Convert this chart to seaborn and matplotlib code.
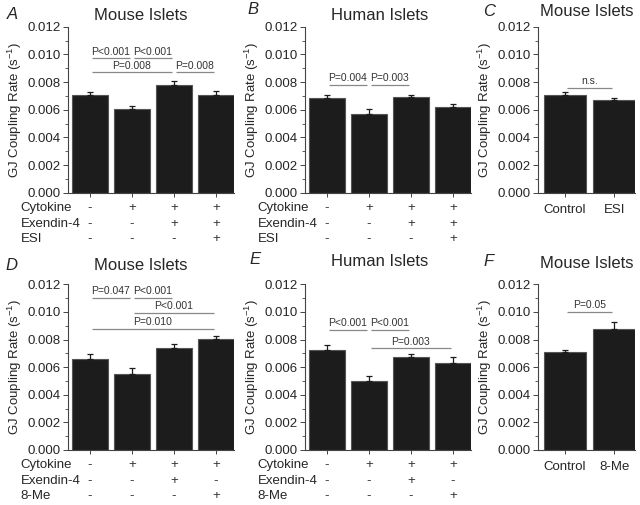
import numpy as np
import pandas as pd
import matplotlib
matplotlib.use('Agg')
import matplotlib.pyplot as plt
from matplotlib.ticker import MultipleLocator
import seaborn as sns

# ------------------------------------------------------------
# GJ coupling rate, six panels
# ------------------------------------------------------------
a_means = [0.00703, 0.00605, 0.00778, 0.00703]
a_errs = [0.00024, 0.00024, 0.00031, 0.00031]
b_means = [0.00687, 0.00566, 0.00689, 0.00620]
b_errs = [0.00020, 0.00036, 0.00020, 0.00021]
c_means = [0.00703, 0.00670]
c_errs = [0.00027, 0.00017]
d_means = [0.00662, 0.00553, 0.00742, 0.00802]
d_errs = [0.00031, 0.00039, 0.00028, 0.00027]
e_means = [0.00722, 0.00497, 0.00674, 0.00633]
e_errs = [0.00037, 0.00041, 0.00024, 0.00043]
f_means = [0.00710, 0.00873]
f_errs = [0.00015, 0.00053]

esi_rows = ['Cytokine', 'Exendin-4', 'ESI']
esi_signs = [['-', '+', '+', '+'],
             ['-', '-', '+', '+'],
             ['-', '-', '-', '+']]
me_rows = ['Cytokine', 'Exendin-4', '8-Me']
me_signs = [['-', '+', '+', '+'],
            ['-', '-', '+', '-'],
            ['-', '-', '-', '+']]
c_labels = ['Control', 'ESI']
f_labels = ['Control', '8-Me']

# significance brackets: (from bar, to bar, height, text)
a_sig = [(0, 1, 0.00972, 'P<0.001'), (1, 2, 0.00972, 'P<0.001'),
         (0, 2, 0.00870, 'P=0.008'), (2, 3, 0.00870, 'P=0.008')]
b_sig = [(0, 1, 0.00780, 'P=0.004'), (1, 2, 0.00780, 'P=0.003')]
c_sig = [(0, 1, 0.00759, 'n.s.')]
d_sig = [(0, 1, 0.01104, 'P=0.047'), (1, 2, 0.01104, 'P<0.001'),
         (1, 3, 0.00995, 'P<0.001'), (0, 3, 0.00877, 'P=0.010')]
e_sig = [(0, 1, 0.00868, 'P<0.001'), (1, 2, 0.00868, 'P<0.001'),
         (1, 3, 0.00736, 'P=0.003')]
f_sig = [(0, 1, 0.00999, 'P=0.05')]

sns.set_style('ticks')
plt.rcParams['font.family'] = ['Liberation Sans', 'DejaVu Sans']
plt.rcParams['mathtext.fontset'] = 'custom'
plt.rcParams['mathtext.rm'] = 'Liberation Sans'
plt.rcParams['mathtext.it'] = 'Liberation Sans:italic'

W, H = 640, 505
fig = plt.figure(figsize=(W / 100, H / 100), dpi=100)


def px_axes(left, top, right, bottom):
    return fig.add_axes([left / W, 1 - bottom / H, (right - left) / W, (bottom - top) / H])


def draw_panel(ax, means, errs, sig, xlim):
    n = len(means)
    df = pd.DataFrame({'group': [str(i) for i in range(n)], 'rate': means})
    sns.barplot(data=df, x='group', y='rate', color='#1c1c1c', width=0.85,
                errorbar=None, edgecolor='#555555', linewidth=0.8, ax=ax)
    ax.errorbar(np.arange(n), means, yerr=[np.zeros(n), errs], fmt='none',
                ecolor='#1c1c1c', elinewidth=0.9, capsize=2.5, capthick=0.9)
    ax.set_xlim(*xlim)
    ax.set_ylim(0, 0.012)
    ax.yaxis.set_major_locator(MultipleLocator(0.002))
    ax.yaxis.set_minor_locator(MultipleLocator(0.001))
    ax.yaxis.set_major_formatter(matplotlib.ticker.FormatStrFormatter('%.3f'))
    ax.tick_params(axis='y', which='major', length=3.5, width=0.7, pad=1.5,
                   labelsize=9.5, color='#444444')
    ax.tick_params(axis='y', which='minor', length=2, width=0.6, color='#444444')
    ax.tick_params(axis='x', length=3, width=0.7, color='#444444')
    ax.set_xlabel('')
    ax.set_ylabel('GJ Coupling Rate (s$^{-1}$)', fontsize=9.5, labelpad=3)
    sns.despine(ax=ax)
    for side in ['left', 'bottom']:
        ax.spines[side].set_linewidth(0.8)
        ax.spines[side].set_color('#444444')
    for i, j, y, txt in sig:
        ax.plot([i + 0.04, j - 0.04], [y, y], color='#888888', lw=0.9,
                solid_capstyle='butt')
        ax.annotate(txt, xy=((i + j) / 2, y), xytext=(0, 1.2),
                    textcoords='offset points', ha='center', va='bottom',
                    fontsize=7.5, color='#333333')


def draw_table(ax, rows, signs):
    ax.set_xticklabels([])
    row_off = [11.0, 22.4, 33.4]
    for r, name in enumerate(rows):
        ax.annotate(name, xy=(0, 0), xycoords='axes fraction',
                    xytext=(-34, -row_off[r]), textcoords='offset points',
                    ha='left', va='center', fontsize=9.5)
        for k, s in enumerate(signs[r]):
            ax.annotate(s, xy=(k, 0),
                        xycoords=ax.get_xaxis_transform(),
                        xytext=(0, -row_off[r]), textcoords='offset points',
                        ha='center', va='center', fontsize=9.5, color='#333333')


ax_a = px_axes(68, 26.7, 234, 192.7)
ax_b = px_axes(305, 26.7, 471, 192.7)
ax_c = px_axes(538, 26.7, 635, 192.7)
ax_d = px_axes(68, 284.3, 234, 450)
ax_e = px_axes(305, 284.3, 471, 450)
ax_f = px_axes(538, 284.3, 635, 450)

four = (-0.52, 3.43)
two = (-0.55, 1.42)
draw_panel(ax_a, a_means, a_errs, a_sig, four)
draw_panel(ax_b, b_means, b_errs, b_sig, four)
draw_panel(ax_c, c_means, c_errs, c_sig, two)
draw_panel(ax_d, d_means, d_errs, d_sig, four)
draw_panel(ax_e, e_means, e_errs, e_sig, four)
draw_panel(ax_f, f_means, f_errs, f_sig, two)

draw_table(ax_a, esi_rows, esi_signs)
draw_table(ax_b, esi_rows, esi_signs)
draw_table(ax_d, me_rows, me_signs)
draw_table(ax_e, me_rows, me_signs)
for ax, labels in [(ax_c, c_labels), (ax_f, f_labels)]:
    ax.set_xticklabels(labels, fontsize=9.5)
    ax.tick_params(axis='x', pad=5)

titles = [('A', 'Mouse Islets', 7, 14.5, 141, 15),
          ('B', 'Human Islets', 247, 9, 380, 15),
          ('C', 'Mouse Islets', 483, 11, 587, 12),
          ('D', 'Mouse Islets', 5, 265, 141, 265),
          ('E', 'Human Islets', 249, 259, 380, 262),
          ('F', 'Mouse Islets', 483, 262, 587, 264)]
for letter, title, lx, ly, tx, ty in titles:
    fig.text(lx / W, 1 - ly / H, letter, fontsize=12, style='italic',
             ha='left', va='center')
    fig.text(tx / W, 1 - ty / H, title, fontsize=12, ha='center', va='center')

fig.savefig('out.png', dpi=100)
